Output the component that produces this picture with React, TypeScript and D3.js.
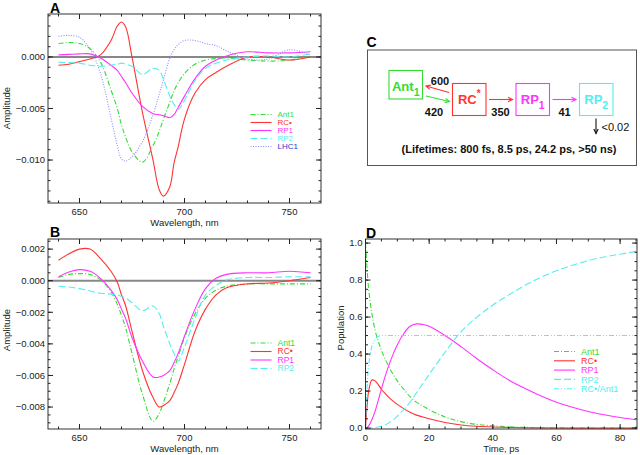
import React from 'react';
import * as d3 from 'd3';

const FONT = '"Liberation Sans", Arial, Helvetica, sans-serif';

// ---- panels A and B: wavelength grid (nm), amplitudes in units of 1e-3
const wavelengths = [640, 645, 650, 655, 660, 665, 668, 670, 672, 675, 680, 685, 688, 690, 693, 695, 697, 700, 705, 710, 715, 720, 730, 740, 750, 760];

const aAnt1 = [1.3, 1.4, 1.3, 0.8, -0.5, -3.2, -5.0, -6.6, -7.8, -9.2, -10.2, -8.6, -7.2, -6.0, -4.4, -3.3, -2.5, -1.6, -0.7, -0.3, -0.15, -0.1, -0.3, -0.4, -0.3, 0.1];
const aRC = [-0.8, -0.7, -0.45, -0.2, 0.2, 1.6, 3.0, 3.4, 2.9, 0.0, -5.4, -10.0, -12.9, -13.5, -12.6, -10.3, -8.7, -6.0, -3.5, -2.2, -1.5, -0.9, 0.0, 0.0, -0.3, 0.0];
const aRP1 = [0.2, 0.25, 0.3, 0.3, -0.1, -0.8, -1.3, -1.9, -2.5, -3.5, -4.8, -5.5, -5.6, -5.7, -5.9, -5.6, -4.9, -3.8, -2.1, -0.9, -0.3, 0.1, 0.5, 0.4, 0.4, 0.5];
const aRP2 = [-0.5, -0.55, -0.6, -0.8, -0.9, -0.8, -0.7, -0.6, -0.7, -0.9, -1.7, -1.1, -1.3, -2.2, -3.8, -4.6, -5.1, -4.2, -2.3, -1.1, -0.6, -0.3, 0.0, 0.1, 0.0, 0.3];
const aLHC1 = [2.0, 2.1, 1.9, 0.8, -1.6, -5.9, -8.6, -9.9, -10.1, -9.7, -8.2, -5.6, -3.6, -2.2, -0.1, 0.7, 1.2, 1.6, 1.6, 1.3, 1.1, 0.6, -0.2, -0.2, 0.7, 0.2];

const bAnt1 = [0.2, 0.4, 0.45, 0.4, 0.05, -0.7, -1.5, -2.2, -3.0, -4.6, -7.2, -8.9, -8.4, -7.7, -6.5, -5.6, -4.8, -3.6, -2.1, -1.1, -0.6, -0.35, -0.2, -0.2, -0.2, -0.2];
const bRC = [1.3, 1.7, 2.0, 2.0, 1.4, 0.6, -0.1, -0.9, -1.6, -3.2, -5.7, -7.4, -8.0, -7.9, -7.6, -7.1, -6.5, -5.3, -3.2, -1.8, -0.9, -0.45, -0.2, -0.15, 0.0, 0.2];
const bRP1 = [0.25, 0.55, 0.7, 0.6, 0.15, -0.6, -1.2, -1.8, -2.4, -3.6, -5.1, -6.1, -6.1, -6.0, -5.7, -5.2, -4.6, -3.5, -1.8, -0.5, 0.15, 0.4, 0.5, 0.5, 0.6, 0.5];
const bRP2 = [-0.35, -0.4, -0.5, -0.65, -0.8, -0.85, -0.9, -1.0, -1.1, -1.4, -1.9, -1.6, -2.1, -2.9, -4.0, -4.6, -5.1, -4.2, -2.4, -0.9, -0.3, 0.05, 0.2, 0.2, 0.25, 0.25];

// ---- panel D: time (ps) and populations
const times = [0, 0.5, 1, 2, 3, 4, 5, 6, 8, 10, 12, 14, 16, 18, 20, 25, 30, 35, 40, 45, 50, 55, 60, 65, 70, 75, 80, 85];
const dAnt1 = [1.0, 0.86, 0.75, 0.62, 0.53, 0.47, 0.42, 0.38, 0.31, 0.255, 0.21, 0.17, 0.14, 0.12, 0.1, 0.06, 0.035, 0.02, 0.012, 0.007, 0.004, 0.002, 0.001, 0.001, 0, 0, 0, 0];
const dRC = [0, 0.12, 0.2, 0.26, 0.255, 0.235, 0.21, 0.19, 0.155, 0.128, 0.105, 0.085, 0.07, 0.06, 0.05, 0.03, 0.017, 0.01, 0.006, 0.0035, 0.002, 0.001, 0.0005, 0, 0, 0, 0, 0];
const dRP1 = [0, 0.003, 0.012, 0.045, 0.09, 0.15, 0.21, 0.27, 0.37, 0.45, 0.51, 0.55, 0.563, 0.56, 0.55, 0.5, 0.44, 0.375, 0.315, 0.26, 0.215, 0.175, 0.14, 0.113, 0.09, 0.072, 0.057, 0.045];
const dRP2 = [0, 0, 0, 0.001, 0.003, 0.006, 0.01, 0.016, 0.035, 0.065, 0.1, 0.14, 0.19, 0.24, 0.29, 0.41, 0.52, 0.6, 0.665, 0.72, 0.77, 0.815, 0.85, 0.88, 0.905, 0.925, 0.94, 0.955];
const dRatio = [0, 0.22, 0.34, 0.44, 0.48, 0.495, 0.5, 0.5, 0.5, 0.5, 0.5, 0.5, 0.5, 0.5, 0.5, 0.5, 0.5, 0.5, 0.5, 0.5, 0.5, 0.5, 0.5, 0.5, 0.5, 0.5, 0.5, 0.5];

// ---- ticks
const wlMajor = [650, 700, 750];
const wlMinor = d3.range(640, 761, 10);
const aYMajor = [0, -5, -10];
const aYMinor = d3.range(-14, 5, 1);
const bYMajor = [2, 0, -2, -4, -6, -8];
const bYMinor = d3.range(-9, 2.6, 0.5);
const dXMajor = [0, 20, 40, 60, 80];
const dXMinor = d3.range(0, 86, 5);
const dYMajor = [0, 0.2, 0.4, 0.6, 0.8, 1.0];
const dYMinor = d3.range(0, 1.01, 0.05);

// ---- scheme (panel C)
const rateLabels = ['600', '420', '350', '41'];
const decayLabel = '<0.02';
const lifetimes = '(Lifetimes: 800 fs, 8.5 ps, 24.2 ps, >50 ns)';

const GREEN = '#33dd33';
const RED = '#ff3333';
const MAGENTA = '#ff33ff';
const CYAN = '#55eeee';
const LAVENDER = '#8c8cff';
const BLUE = '#3333cc';

type Series = { name: string; values: number[]; color: string; dash?: string; text?: string };

type PlotProps = {
  box: { l: number; r: number; t: number; b: number };
  xDomain: [number, number];
  yDomain: [number, number];
  xs: number[];
  series: Series[];
  xMajor: number[];
  xMinor: number[];
  yMajor: number[];
  yMinor: number[];
  yFmt: (v: number) => string;
  xLabel: string;
  yLabel: string;
  yLabelPos: [number, number];
  title: string;
  titlePos: [number, number];
  zero?: boolean;
  legend: { x: number; y: number; dy: number; size: number };
};

function Plot(p: PlotProps) {
  const { box } = p;
  const x = d3.scaleLinear().domain(p.xDomain).range([box.l, box.r]);
  const y = d3.scaleLinear().domain(p.yDomain).range([box.b, box.t]);
  const line = d3
    .line<number>()
    .x((_, i) => x(p.xs[i]))
    .y((d) => y(d))
    .curve(d3.curveCatmullRom.alpha(0.5));
  const major = 5;
  const minor = 2.5;
  const tickColor = '#222';
  return (
    <g fontFamily={FONT}>
      <text x={p.titlePos[0]} y={p.titlePos[1]} fontSize={14} fontWeight="bold" fill="#000">
        {p.title}
      </text>
      {p.zero && (
        <line x1={box.l} x2={box.r} y1={y(0)} y2={y(0)} stroke="#888" strokeWidth={2} />
      )}
      {p.series.map((s) => (
        <path key={s.name} d={line(s.values) || ''} fill="none" stroke={s.color} strokeWidth={1.1} strokeDasharray={s.dash} />
      ))}
      <rect x={box.l} y={box.t} width={box.r - box.l} height={box.b - box.t} fill="none" stroke="#333" strokeWidth={1} />
      {p.xMinor.map((v) => (
        <g key={'xm' + v} stroke={tickColor}>
          <line x1={x(v)} x2={x(v)} y1={box.b} y2={box.b - minor} />
          <line x1={x(v)} x2={x(v)} y1={box.t} y2={box.t + minor} />
        </g>
      ))}
      {p.xMajor.map((v) => (
        <g key={'xM' + v}>
          <line x1={x(v)} x2={x(v)} y1={box.b} y2={box.b - major} stroke={tickColor} />
          <line x1={x(v)} x2={x(v)} y1={box.t} y2={box.t + major} stroke={tickColor} />
          <text x={x(v)} y={box.b + 12} fontSize={9.5} textAnchor="middle" fill="#222">
            {v}
          </text>
        </g>
      ))}
      {p.yMinor.map((v) => (
        <g key={'ym' + v} stroke={tickColor}>
          <line x1={box.l} x2={box.l + minor} y1={y(v)} y2={y(v)} />
          <line x1={box.r} x2={box.r - minor} y1={y(v)} y2={y(v)} />
        </g>
      ))}
      {p.yMajor.map((v) => (
        <g key={'yM' + v}>
          <line x1={box.l} x2={box.l + major} y1={y(v)} y2={y(v)} stroke={tickColor} />
          <line x1={box.r} x2={box.r - major} y1={y(v)} y2={y(v)} stroke={tickColor} />
          <text x={box.l - 3} y={y(v)} dy="0.35em" fontSize={9.5} textAnchor="end" fill="#222">
            {p.yFmt(v)}
          </text>
        </g>
      ))}
      <text x={(box.l + box.r) / 2} y={box.b + 23} fontSize={9.5} textAnchor="middle" fill="#222">
        {p.xLabel}
      </text>
      <text
        transform={`translate(${p.yLabelPos[0]},${p.yLabelPos[1]}) rotate(-90)`}
        fontSize={9.5}
        textAnchor="middle"
        fill="#222"
      >
        {p.yLabel}
      </text>
      {p.series.map((s, i) => {
        const ly = p.legend.y + i * p.legend.dy;
        return (
          <g key={'lg' + s.name}>
            <line x1={p.legend.x} x2={p.legend.x + 21} y1={ly} y2={ly} stroke={s.color} strokeWidth={1.1} strokeDasharray={s.dash} />
            <text x={p.legend.x + 27} y={ly} dy="0.35em" fontSize={p.legend.size} fill={s.text || s.color}>
              {s.name}
            </text>
          </g>
        );
      })}
    </g>
  );
}

function Arrow({ x1, y1, x2, y2, color }: { x1: number; y1: number; x2: number; y2: number; color: string }) {
  const a = Math.atan2(y2 - y1, x2 - x1);
  const h = 5;
  const s = 0.45;
  const p1 = [x2 - h * Math.cos(a - s), y2 - h * Math.sin(a - s)];
  const p2 = [x2 - h * Math.cos(a + s), y2 - h * Math.sin(a + s)];
  return (
    <g stroke={color} strokeWidth={1.1} fill="none">
      <line x1={x1} y1={y1} x2={x2} y2={y2} />
      <polyline points={`${p1[0]},${p1[1]} ${x2},${y2} ${p2[0]},${p2[1]}`} />
    </g>
  );
}

function Scheme() {
  const nodes = [
    { main: 'Ant', sub: '1', sup: '', color: GREEN, x: 389, y: 70.5, w: 33.5, h: 28.5 },
    { main: 'RC', sub: '', sup: '*', color: RED, x: 452.5, y: 83.5, w: 33.5, h: 32 },
    { main: 'RP', sub: '1', sup: '', color: MAGENTA, x: 516, y: 83.5, w: 33.5, h: 32 },
    { main: 'RP', sub: '2', sup: '', color: CYAN, x: 579.5, y: 83.5, w: 33.5, h: 32 },
  ];
  return (
    <g fontFamily={FONT}>
      <text x={366.5} y={46.5} fontSize={14} fontWeight="bold">
        C
      </text>
      <rect x={367.5} y={50} width={269} height={115.5} fill="none" stroke="#555" strokeWidth={1} />
      {nodes.map((n) => (
        <g key={n.main + n.sub}>
          <rect x={n.x} y={n.y} width={n.w} height={n.h} fill="none" stroke={n.color} strokeWidth={1.1} />
          <text x={n.x + n.w / 2} y={n.y + 20.5} fontSize={13} fontWeight="bold" fill={n.color} textAnchor="middle">
            {n.main}
            {n.sub && (
              <tspan dy={5} fontSize={10.5}>
                {n.sub}
              </tspan>
            )}
            {n.sup && (
              <tspan dy={-7} fontSize={10}>
                {n.sup}
              </tspan>
            )}
          </text>
        </g>
      ))}
      <Arrow x1={449} y1={92.5} x2={426} y2={86} color={RED} />
      <Arrow x1={426} y1={96} x2={449.5} y2={101.5} color={GREEN} />
      <Arrow x1={489} y1={99.5} x2={512.5} y2={99.5} color={RED} />
      <Arrow x1={552.5} y1={99.5} x2={576} y2={99.5} color={MAGENTA} />
      <Arrow x1={596} y1={118.5} x2={596} y2={133.5} color="#111" />
      <g fontSize={11} fontWeight="bold" textAnchor="middle" fill="#111">
        <text x={440} y={85}>{rateLabels[0]}</text>
        <text x={434} y={116}>{rateLabels[1]}</text>
        <text x={500.5} y={116}>{rateLabels[2]}</text>
        <text x={564.5} y={116}>{rateLabels[3]}</text>
      </g>
      <text x={601.5} y={131} fontSize={11} fill="#111">
        {decayLabel}
      </text>
      <text x={509} y={153} fontSize={11} fontWeight="bold" textAnchor="middle" fill="#111">
        {lifetimes}
      </text>
    </g>
  );
}

const milli = (v: number) => d3.format('.3f')(v / 1000);

export default function App() {
  const seriesA: Series[] = [
    { name: 'Ant1', values: aAnt1, color: GREEN, dash: '5,2,1,2' },
    { name: 'RC•', values: aRC, color: RED },
    { name: 'RP1', values: aRP1, color: MAGENTA },
    { name: 'RP2', values: aRP2, color: CYAN, dash: '7,3' },
    { name: 'LHC1', values: aLHC1, color: LAVENDER, dash: '1,1.5', text: BLUE },
  ];
  const seriesB: Series[] = [
    { name: 'Ant1', values: bAnt1, color: GREEN, dash: '5,2,1,2' },
    { name: 'RC•', values: bRC, color: RED },
    { name: 'RP1', values: bRP1, color: MAGENTA },
    { name: 'RP2', values: bRP2, color: CYAN, dash: '7,3' },
  ];
  const seriesD: Series[] = [
    { name: 'Ant1', values: dAnt1, color: GREEN, dash: '5,2,1,2' },
    { name: 'RC•', values: dRC, color: RED },
    { name: 'RP1', values: dRP1, color: MAGENTA },
    { name: 'RP2', values: dRP2, color: CYAN, dash: '7,3' },
    { name: 'RC•/Ant1', values: dRatio, color: CYAN, dash: '5,2,1,2,1,2' },
  ];
  return (
    <svg width={640} height={455} style={{ position: 'absolute', left: 0, top: 0, background: '#fff' }}>
      <rect width={640} height={455} fill="#fff" />
      <Plot
        box={{ l: 48, r: 321, t: 14, b: 203 }}
        xDomain={[635, 765]}
        yDomain={[-14.17, 4.17]}
        xs={wavelengths}
        series={seriesA}
        xMajor={wlMajor}
        xMinor={wlMinor}
        yMajor={aYMajor}
        yMinor={aYMinor}
        yFmt={milli}
        xLabel="Wavelength, nm"
        yLabel="Amplitude"
        yLabelPos={[10, 108]}
        title="A"
        titlePos={[50, 13]}
        zero
        legend={{ x: 250.5, y: 114.5, dy: 8, size: 8 }}
      />
      <Plot
        box={{ l: 48, r: 321, t: 239, b: 429 }}
        xDomain={[635, 765]}
        yDomain={[-9.39, 2.64]}
        xs={wavelengths}
        series={seriesB}
        xMajor={wlMajor}
        xMinor={wlMinor}
        yMajor={bYMajor}
        yMinor={bYMinor}
        yFmt={milli}
        xLabel="Wavelength, nm"
        yLabel="Amplitude"
        yLabelPos={[10, 330]}
        title="B"
        titlePos={[50, 237]}
        zero
        legend={{ x: 250.5, y: 343, dy: 8.5, size: 8.5 }}
      />
      <Scheme />
      <Plot
        box={{ l: 365.5, r: 637, t: 239, b: 429 }}
        xDomain={[0, 85.3]}
        yDomain={[-0.005, 1.022]}
        xs={times}
        series={seriesD}
        xMajor={dXMajor}
        xMinor={dXMinor}
        yMajor={dYMajor}
        yMinor={dYMinor}
        yFmt={(v) => d3.format('.1f')(v)}
        xLabel="Time, ps"
        yLabel="Population"
        yLabelPos={[344, 328]}
        title="D"
        titlePos={[366, 238]}
        legend={{ x: 554, y: 351.5, dy: 9.3, size: 9 }}
      />
    </svg>
  );
}
